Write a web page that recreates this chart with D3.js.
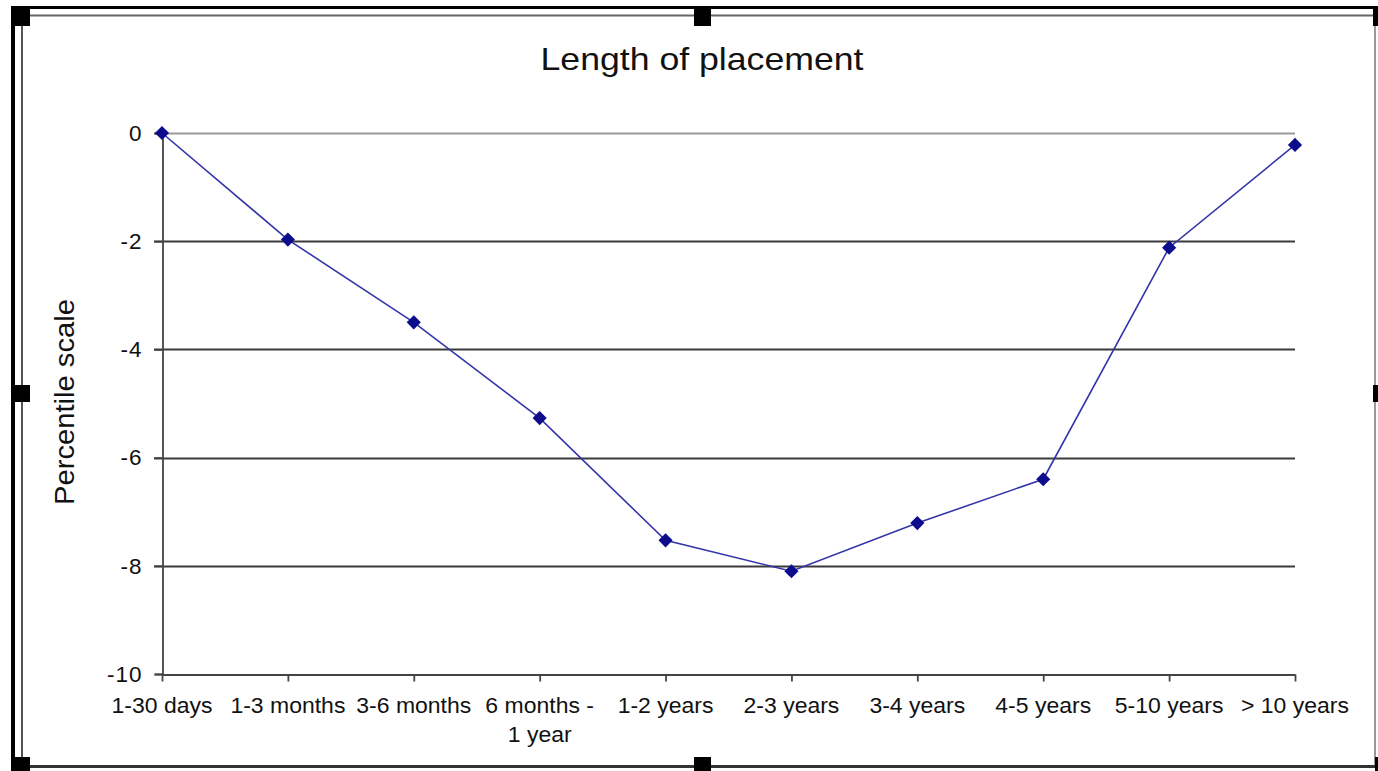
<!DOCTYPE html>
<html>
<head>
<meta charset="utf-8">
<script src="https://cdn.jsdelivr.net/npm/d3@7"></script>
<style>
  html, body { margin: 0; padding: 0; background: #fff; }
  svg { display: block; }
  text { font-family: "Liberation Sans", Arial, sans-serif; fill: #111; }
</style>
</head>
<body>
<svg id="chart" width="1378" height="771"></svg>
<script>
const categories = ["1-30 days", "1-3 months", "3-6 months", "6 months -|1 year", "1-2 years",
                    "2-3 years", "3-4 years", "4-5 years", "5-10 years", "> 10 years"];
const values = [0, -1.97, -3.5, -5.27, -7.53, -8.1, -7.21, -6.4, -2.12, -0.22];
const yTicks = [0, -2, -4, -6, -8, -10];
const title = "Length of placement";
const yTitle = "Percentile scale";

const W = 1378, H = 771;
const svg = d3.select("#chart");

// frame (selection border of embedded chart)
svg.append("rect").attr("x", 0).attr("y", 0).attr("width", W).attr("height", H).attr("fill", "#fff");
svg.append("rect").attr("x", 11).attr("y", 6).attr("width", W - 11).attr("height", 3).attr("fill", "#000");
svg.append("rect").attr("x", 11).attr("y", 6).attr("width", 4).attr("height", 762).attr("fill", "#000");
svg.append("rect").attr("x", 11).attr("y", 765).attr("width", W - 11).attr("height", 3).attr("fill", "#333");
svg.append("line").attr("x1", 22).attr("x2", 1373).attr("y1", 15.5).attr("y2", 15.5).attr("stroke", "#666").attr("stroke-width", 2);
svg.append("line").attr("x1", 22).attr("x2", 22).attr("y1", 15).attr("y2", 765).attr("stroke", "#555").attr("stroke-width", 2);
svg.append("line").attr("x1", 1375).attr("x2", 1375).attr("y1", 15).attr("y2", 765).attr("stroke", "#777").attr("stroke-width", 1.5);
const handles = [[11, 6, 19, 20], [694, 6, 17, 20], [1373, 7, 5, 19], [11, 385, 19, 17], [1373, 385, 5, 17],
                 [11, 757, 19, 14], [694, 757, 17, 14], [1375, 757, 3, 14]];
svg.selectAll("rect.handle").data(handles).enter().append("rect").attr("class", "handle")
  .attr("x", d => d[0]).attr("y", d => d[1]).attr("width", d => d[2]).attr("height", d => d[3]).attr("fill", "#000");

// scales
const x = d3.scalePoint().domain(categories).range([162, 1295]);
const y = d3.scaleLinear().domain([-10, 0]).range([674, 133]);

// gridlines
const g = svg.append("g");
g.selectAll("line.grid").data(yTicks.filter(t => t !== -10)).enter().append("line")
  .attr("x1", 154).attr("x2", 1295)
  .attr("y1", d => Math.round(y(d)) + 0.5).attr("y2", d => Math.round(y(d)) + 0.5)
  .attr("stroke", d => d === 0 ? "#999" : "#3a3a3a").attr("stroke-width", 1.8);

// y axis
const yAxis = d3.axisLeft(y).tickValues(yTicks).tickSize(8).tickPadding(12).tickFormat(d3.format("d"));
const ya = svg.append("g").attr("transform", "translate(162.5,0)").call(yAxis);
ya.select(".domain").attr("stroke", "#444").attr("stroke-width", 1.8);
ya.selectAll(".tick line").attr("stroke", "#444").attr("stroke-width", 1.8);
ya.selectAll(".tick text").style("font-size", "22.5px").attr("fill", "#222")
  .attr("letter-spacing", "1px")
  .text(d => d < 0 ? "-" + Math.abs(d) : d);

// x axis
const xAxis = d3.axisBottom(x).tickSize(7).tickSizeOuter(0).tickFormat("");
const xa = svg.append("g").attr("transform", "translate(0,674.5)").call(xAxis);
xa.select(".domain").attr("stroke", "#444").attr("stroke-width", 1.8);
xa.selectAll(".tick line").attr("stroke", "#444").attr("stroke-width", 1.8);
xa.selectAll(".tick text").remove();

const xl = svg.append("g").selectAll("g.xl").data(categories).enter().append("g")
  .attr("transform", d => `translate(${x(d)},713) scale(1.07,1)`);
xl.each(function(d) {
  const lines = d.split("|");
  const t = d3.select(this).append("text").attr("text-anchor", "middle").style("font-size", "21.5px").attr("fill", "#222");
  lines.forEach((ln, i) => t.append("tspan").attr("x", 0).attr("dy", i === 0 ? 0 : 29).text(ln));
});

// line + markers
const line = d3.line().x((d, i) => x(categories[i])).y(d => y(d));
svg.append("path").datum(values).attr("d", line)
  .attr("fill", "none").attr("stroke", "#3535aa").attr("stroke-width", 1.6);
svg.selectAll("path.marker").data(values).enter().append("path")
  .attr("class", "marker")
  .attr("d", d3.symbol().type(d3.symbolSquare).size(100))
  .attr("transform", (d, i) => `translate(${x(categories[i])},${y(d)}) rotate(45)`)
  .attr("fill", "#0c0c8c");

// title
svg.append("g").attr("transform", "translate(702,70) scale(1.15,1)")
  .append("text").attr("text-anchor", "middle").style("font-size", "31px").attr("fill", "#111").text(title);

// y title
svg.append("g").attr("transform", "translate(74,402) rotate(-90) scale(1.08,1)")
  .append("text").attr("text-anchor", "middle").style("font-size", "27px").attr("fill", "#111").text(yTitle);
</script>
</body>
</html>
